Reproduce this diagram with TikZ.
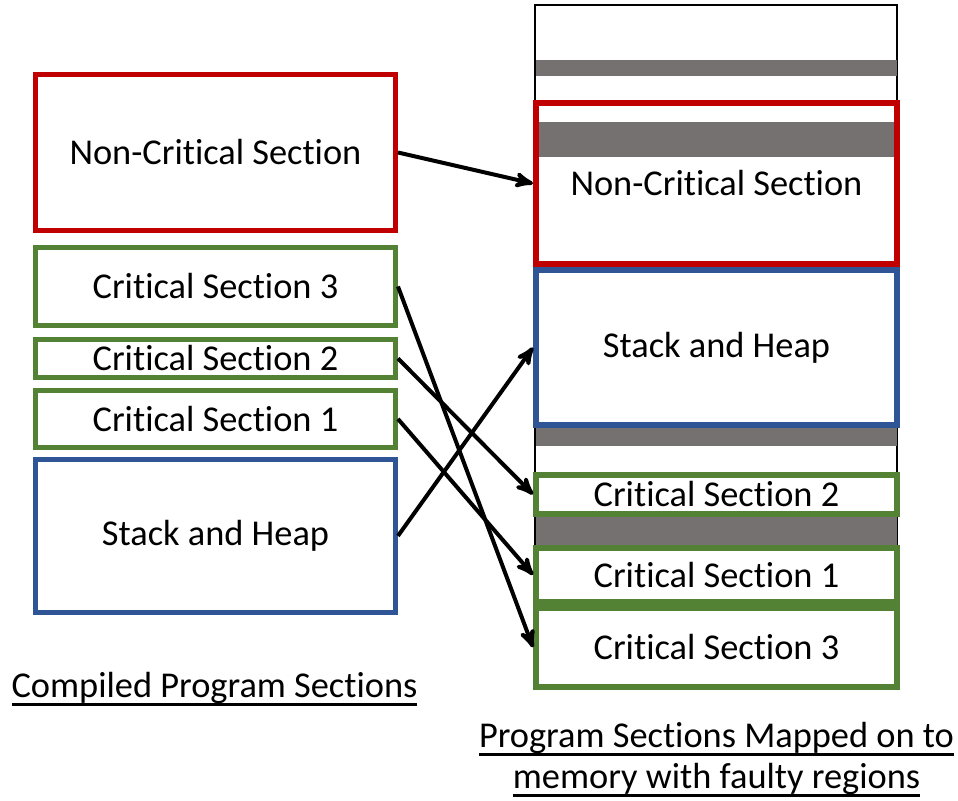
\documentclass[tikz,border=0pt]{standalone}
\usepackage{fontspec}
\setmainfont{Carlito}[Ligatures=NoCommon]
\usepackage{tikz}
\usetikzlibrary{positioning, arrows}
\definecolor{ncred}{HTML}{C00000}
\definecolor{csgreen}{HTML}{548235}
\definecolor{shblue}{HTML}{2F5597}
\definecolor{faultgrey}{HTML}{767171}
% thick underline for the captions
\newcommand{\capline}[1]{\setbox0\hbox{#1}\vtop{\copy0\kern-\dp0\kern3.6pt\hrule height 1.3pt}}
\tikzset{
	>=stealth', % bold arrow heads
	sec/.style={draw, line width=0.1cm, minimum width=7.2cm, inner sep=0pt, font=\fontsize{20.7}{25}\selectfont}, % a program section
	mem/.style={sec, line width=0.12cm, minimum width=7.22cm}, % a section placed in memory
	fault/.style={fill=faultgrey, draw=none}, % a faulty region
	map/.style={->, line width=0.08cm}, % the mapping arrows
	caption/.style={font=\fontsize{20.7}{25}\selectfont, inner sep=0pt, anchor=base},
}
\begin{document}
\begin{tikzpicture}[x=0.02cm, y=-0.02cm]
	\useasboundingbox (0,0) rectangle (958,801);

	% compiled sections
	\node[sec, draw=ncred, minimum height=3.12cm] (ncs) at (215.5,152.5) {Non-Critical Section};
	\node[sec, draw=csgreen, minimum height=1.56cm, below=0.24cm of ncs] (cs3) {Critical Section 3};
	\node[sec, draw=csgreen, minimum height=0.76cm, below=0.18cm of cs3] (cs2) {Critical Section 2};
	\node[sec, draw=csgreen, minimum height=1.14cm, below=0.16cm of cs2] (cs1) {Critical Section 1};
	\node[sec, draw=shblue, minimum height=3.06cm, below=0.14cm of cs1] (sh) {Stack and Heap};

	% memory with faulty regions
	\draw[line width=0.03cm] (535,5) rectangle (897,545);
	\fill[fault] (536,60) rectangle (897,76);
	\fill[fault] (539,122) rectangle (895,157);
	\fill[fault] (536,428) rectangle (897,446);
	\fill[fault] (536,517) rectangle (897,545);

	\node[mem, draw=ncred, minimum height=3.22cm] (mncs) at (716.5,183.5) {Non-Critical Section};
	\node[mem, draw=shblue, minimum height=3.1cm, below=0cm of mncs] (msh) {Stack and Heap};
	\node[mem, draw=csgreen, minimum height=0.78cm, below=0.88cm of msh] (mcs2) {Critical Section 2};
	\node[mem, draw=csgreen, minimum height=1.08cm, below=0.56cm of mcs2] (mcs1) {Critical Section 1};
	\node[mem, draw=csgreen, minimum height=1.58cm, below=0cm of mcs1] (mcs3) {Critical Section 3};

	% mapping
	\draw[map] (ncs.east) -- (mncs.west);
	\draw[map] (cs3.east) -- (mcs3.west);
	\draw[map] (cs2.east) -- (mcs2.west);
	\draw[map] (cs1.east) -- (mcs1.west);
	\draw[map] (sh.east) -- (msh.west);

	% captions
	\node[caption] (lcap) at (214.5,697) {\capline{Compiled Program Sections}};
	\node[caption] (rcap1) at (716.5,747) {\capline{Program Sections Mapped on to}};
	\node[caption] (rcap2) at (716.5,788) {\capline{memory with faulty regions}};
\end{tikzpicture}
\end{document}
